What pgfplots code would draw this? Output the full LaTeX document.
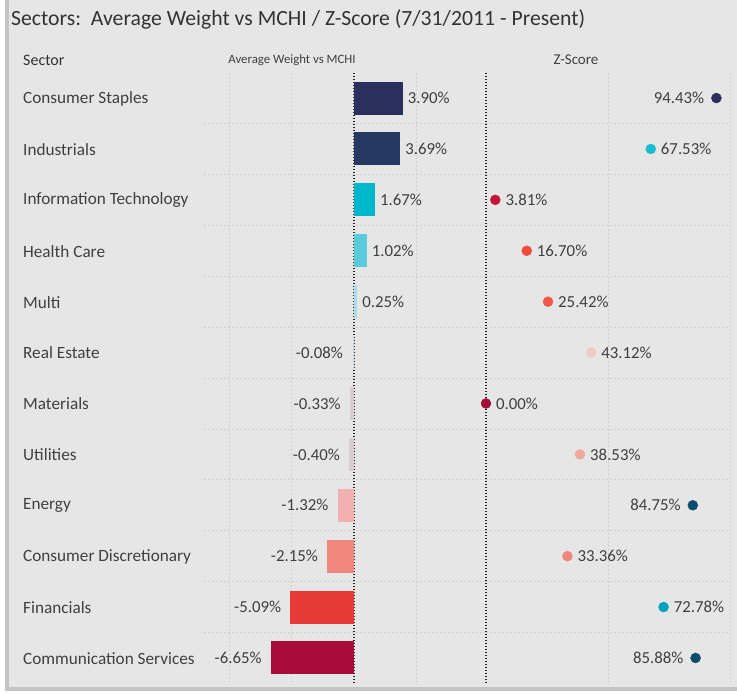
\documentclass[border=0pt]{standalone}
\usepackage{fontspec}
\setmainfont{Carlito}
\usepackage{pgfplots}
\pgfplotsset{compat=1.18}

\definecolor{panel}{HTML}{E6E6E6}
\definecolor{edge}{HTML}{C4C4C4}
\definecolor{gridc}{HTML}{D0D0D0}
\definecolor{labc}{HTML}{404040}
\definecolor{titlec}{HTML}{333333}
% bar colours
\definecolor{b1}{HTML}{2B2F5C}
\definecolor{b2}{HTML}{253962}
\definecolor{b3}{HTML}{00B8CC}
\definecolor{b4}{HTML}{5BCBDC}
\definecolor{b5}{HTML}{A8DCE6}
\definecolor{b6}{HTML}{C8D2DA}
\definecolor{b7}{HTML}{D8CCD0}
\definecolor{b8}{HTML}{D8CCD0}
\definecolor{b9}{HTML}{F2B1B0}
\definecolor{b10}{HTML}{F0877F}
\definecolor{b11}{HTML}{E63A36}
\definecolor{b12}{HTML}{A80C3A}
% z-score dot colours
\definecolor{z1}{HTML}{2A2F5E}
\definecolor{z2}{HTML}{18BDD0}
\definecolor{z3}{HTML}{C41539}
\definecolor{z4}{HTML}{F24B3B}
\definecolor{z5}{HTML}{F05748}
\definecolor{z6}{HTML}{F2C9C9}
\definecolor{z7}{HTML}{A20B3A}
\definecolor{z8}{HTML}{F0A99F}
\definecolor{z9}{HTML}{0D4B6E}
\definecolor{z10}{HTML}{F08579}
\definecolor{z11}{HTML}{00A2C0}
\definecolor{z12}{HTML}{0D4B6E}

\newcommand{\lbl}{\fontsize{17.2}{20}\selectfont}
\newcommand{\val}{\fontsize{16.8}{20}\selectfont}

\pgfplotsset{
  panelaxis/.style={
    scale only axis, height=610.8pt, anchor=north west,
    ymin=-0.5, ymax=11.5, y dir=reverse, clip=false,
    axis line style={draw=none}, tick style={draw=none},
    xticklabels={}, ytick={0,...,11},
    minor ytick={0.5,1.5,...,10.5}, yminorgrids, xmajorgrids,
    grid style={gridc, dash pattern=on 2pt off 2pt, line width=0.8pt},
    minor grid style={gridc, dash pattern=on 2pt off 2pt, line width=0.8pt},
    extra x ticks={0}, extra x tick labels={},
    extra x tick style={grid style={black!85, dash pattern=on 1.5pt off 1.5pt, line width=1.1pt}},
    point meta=explicit symbolic,
    nodes near coords={\pgfplotspointmeta\%},
    every node near coord/.append style={font=\val, text=labc, inner sep=0pt},
  },
  right/.style={every node near coord/.append style={anchor=west, xshift=#1}},
  left/.style={every node near coord/.append style={anchor=east, xshift=-#1}},
  bar/.style={xbar, bar shift=0pt, bar width=33pt, draw=none, fill=#1},
  dot/.style={only marks, color=#1, mark=*, mark size=5pt, mark options={draw=#1, fill=#1}},
}

\begin{document}
\begin{tikzpicture}
\useasboundingbox (0pt,0pt) rectangle (737pt,-694pt);
\fill[white] (0pt,0pt) rectangle (737pt,-694pt);
\fill[edge] (5pt,0pt) rectangle (737pt,-691pt);
\fill[panel] (8.5pt,0pt) rectangle (737pt,-687pt);

\node[anchor=west, inner sep=0pt, text=titlec, font=\fontsize{21.7}{26}\selectfont]
  at (11pt,-19pt) {Sectors:\ \ Average Weight vs MCHI / Z-Score (7/31/2011 - Present)};
\node[anchor=west, inner sep=0pt, text=titlec, font=\fontsize{16}{19}\selectfont]
  at (23pt,-60pt) {Sector};
\node[inner sep=0pt, text=labc, font=\fontsize{12.8}{16}\selectfont]
  at (292pt,-60pt) {Average Weight vs MCHI};
\node[inner sep=0pt, text=labc, font=\fontsize{15}{18}\selectfont]
  at (576pt,-60pt) {Z-Score};

% average weight vs MCHI
\begin{axis}[panelaxis, at={(204pt,-72.6pt)}, width=282pt,
  xmin=-12, xmax=10.56, xtick={-10,-5,5},
  yticklabels={Consumer Staples, Industrials, Information Technology, Health Care,
    Multi, Real Estate, Materials, Utilities, Energy, Consumer Discretionary,
    Financials, Communication Services},
  yticklabel style={anchor=west, xshift=-181pt, yshift=-0.5pt, inner sep=0pt, font=\lbl, text=labc},
]
\addplot[bar=b1, right=5pt] coordinates {(3.90,0) [3.90]};
\addplot[bar=b2, right=5pt] coordinates {(3.69,1) [3.69]};
\addplot[bar=b3, right=5pt] coordinates {(1.67,2) [1.67]};
\addplot[bar=b4, right=5pt] coordinates {(1.02,3) [1.02]};
\addplot[bar=b5, right=5pt] coordinates {(0.25,4) [0.25]};
\addplot[bar=b6, left=10pt] coordinates {(-0.08,5) [-0.08]};
\addplot[bar=b7, left=9pt] coordinates {(-0.33,6) [-0.33]};
\addplot[bar=b8, left=9pt] coordinates {(-0.40,7) [-0.40]};
\addplot[bar=b9, left=9pt] coordinates {(-1.32,8) [-1.32]};
\addplot[bar=b10, left=9pt] coordinates {(-2.15,9) [-2.15]};
\addplot[bar=b11, left=9pt] coordinates {(-5.09,10) [-5.09]};
\addplot[bar=b12, left=9pt] coordinates {(-6.65,11) [-6.65]};
\end{axis}

% z-score
\begin{axis}[panelaxis, at={(486pt,-72.6pt)}, width=244pt,
  xmin=0, xmax=100, xtick={50,100}, yticklabels={},
]
\addplot[dot=z1, left=12pt] coordinates {(94.43,0) [94.43]};
\addplot[dot=z2, right=10pt] coordinates {(67.53,1) [67.53]};
\addplot[dot=z3, right=10pt] coordinates {(3.81,2) [3.81]};
\addplot[dot=z4, right=10pt] coordinates {(16.70,3) [16.70]};
\addplot[dot=z5, right=10pt] coordinates {(25.42,4) [25.42]};
\addplot[dot=z6, right=10pt] coordinates {(43.12,5) [43.12]};
\addplot[dot=z7, right=10pt] coordinates {(0.00,6) [0.00]};
\addplot[dot=z8, right=10pt] coordinates {(38.53,7) [38.53]};
\addplot[dot=z9, left=12pt] coordinates {(84.75,8) [84.75]};
\addplot[dot=z10, right=10pt] coordinates {(33.36,9) [33.36]};
\addplot[dot=z11, right=10pt] coordinates {(72.78,10) [72.78]};
\addplot[dot=z12, left=12pt] coordinates {(85.88,11) [85.88]};
\end{axis}
\end{tikzpicture}
\end{document}
